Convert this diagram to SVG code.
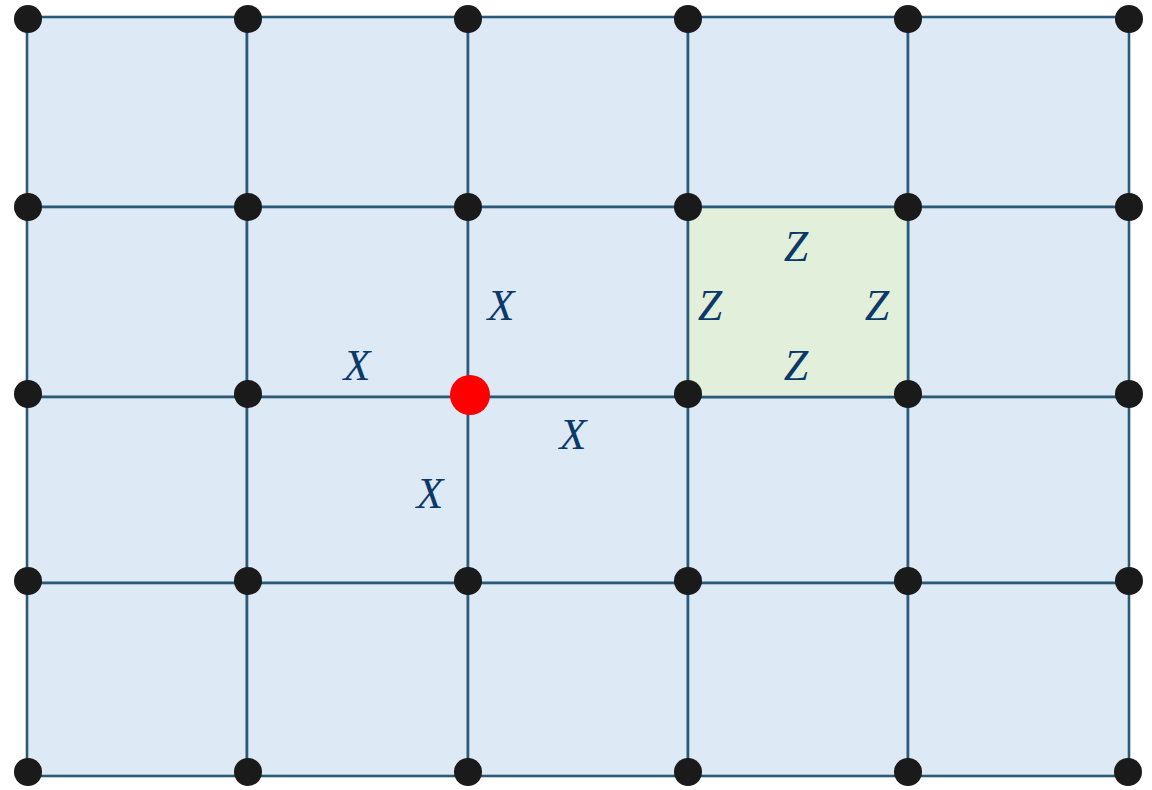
<svg xmlns="http://www.w3.org/2000/svg" width="1152" height="790" viewBox="0 0 1152 790">
<style>
.cell{fill:#dde9f5;stroke:#2a5a78;stroke-width:2.6}
.hl{fill:#e2efda;stroke:#2a5a78;stroke-width:2.6}
.dot{fill:#1a1a1a}
.red{fill:#ff0000}
.lbl{font-family:"Liberation Serif","DejaVu Serif",serif;font-style:italic;font-size:44px;fill:#0b3a6a;text-anchor:middle}
</style>
<rect width="1152" height="790" fill="#ffffff"/>
<g id="grid">
<rect class="cell" x="27" y="17" width="220" height="190"/>
<rect class="cell" x="247" y="17" width="221" height="190"/>
<rect class="cell" x="468" y="17" width="220" height="190"/>
<rect class="cell" x="688" y="17" width="220" height="190"/>
<rect class="cell" x="908" y="17" width="221" height="190"/>
<rect class="cell" x="27" y="207" width="220" height="190"/>
<rect class="cell" x="247" y="207" width="221" height="190"/>
<rect class="cell" x="468" y="207" width="220" height="190"/>
<rect class="cell" x="908" y="207" width="221" height="190"/>
<rect class="cell" x="27" y="397" width="220" height="186"/>
<rect class="cell" x="247" y="397" width="221" height="186"/>
<rect class="cell" x="468" y="397" width="220" height="186"/>
<rect class="cell" x="688" y="397" width="220" height="186"/>
<rect class="cell" x="908" y="397" width="221" height="186"/>
<rect class="cell" x="27" y="583" width="220" height="193"/>
<rect class="cell" x="247" y="583" width="221" height="193"/>
<rect class="cell" x="468" y="583" width="220" height="193"/>
<rect class="cell" x="688" y="583" width="220" height="193"/>
<rect class="cell" x="908" y="583" width="221" height="193"/>
</g>
<g id="plaquette">
<rect class="hl" x="688" y="207" width="220" height="190"/>
</g>
<g id="labels">
<text class="lbl" x="501" y="320">X</text>
<text class="lbl" x="357" y="380">X</text>
<text class="lbl" x="573" y="449">X</text>
<text class="lbl" x="430" y="508">X</text>
<text class="lbl" x="796" y="261">Z</text>
<text class="lbl" x="710" y="320">Z</text>
<text class="lbl" x="877" y="320">Z</text>
<text class="lbl" x="796" y="380">Z</text>
</g>
<g id="vertices">
<circle class="dot" cx="28" cy="19" r="14"/><circle class="dot" cx="248" cy="19" r="14"/><circle class="dot" cx="468" cy="19" r="14"/><circle class="dot" cx="688" cy="19" r="14"/><circle class="dot" cx="908" cy="19" r="14"/><circle class="dot" cx="1129" cy="19" r="14"/>
<circle class="dot" cx="28" cy="207" r="14"/><circle class="dot" cx="248" cy="207" r="14"/><circle class="dot" cx="468" cy="207" r="14"/><circle class="dot" cx="688" cy="207" r="14"/><circle class="dot" cx="908" cy="207" r="14"/><circle class="dot" cx="1129" cy="207" r="14"/>
<circle class="dot" cx="28" cy="394" r="14"/><circle class="dot" cx="248" cy="394" r="14"/><circle class="dot" cx="688" cy="394" r="14"/><circle class="dot" cx="908" cy="394" r="14"/><circle class="dot" cx="1129" cy="394" r="14"/>
<circle class="dot" cx="28" cy="581" r="14"/><circle class="dot" cx="248" cy="581" r="14"/><circle class="dot" cx="468" cy="581" r="14"/><circle class="dot" cx="688" cy="581" r="14"/><circle class="dot" cx="908" cy="581" r="14"/><circle class="dot" cx="1129" cy="581" r="14"/>
<circle class="dot" cx="28" cy="772" r="14"/><circle class="dot" cx="248" cy="772" r="14"/><circle class="dot" cx="468" cy="772" r="14"/><circle class="dot" cx="688" cy="772" r="14"/><circle class="dot" cx="908" cy="772" r="14"/><circle class="dot" cx="1128" cy="772" r="14"/>
</g>
<g id="star-vertex">
<circle class="red" cx="470" cy="395" r="20"/>
</g>
</svg>
